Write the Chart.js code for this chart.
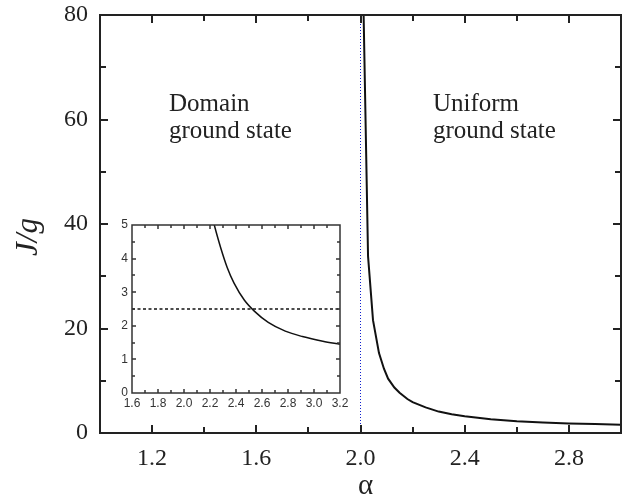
<!DOCTYPE html>
<html>
<head>
<meta charset="utf-8">
<script src="https://cdn.jsdelivr.net/npm/chart.js@4.4.0/dist/chart.umd.min.js"></script>
<style>
  html, body { margin: 0; padding: 0; background: #fff; }
  #wrap { position: relative; width: 625px; height: 497px; }
  #mainChart { position: absolute; left: 0; top: 0; }
  #insetChart { position: absolute; left: 100px; top: 210px; }
</style>
</head>
<body>
<div id="wrap">
  <canvas id="mainChart" width="625" height="497"></canvas>
  <canvas id="insetChart" width="250" height="205"></canvas>
</div>
<script>
// main curve: J/g against alpha
const alphaMain = [2.012, 2.029, 2.048, 2.071, 2.09, 2.106, 2.13, 2.15, 2.18, 2.2, 2.25, 2.3, 2.35, 2.4, 2.5, 2.6, 2.7, 2.8, 2.9, 3.0];
const jMain = [80, 33.8, 21.6, 15.3, 12.3, 10.4, 8.7, 7.7, 6.5, 5.9, 4.9, 4.1, 3.6, 3.2, 2.65, 2.25, 2.0, 1.82, 1.7, 1.6];
// critical alpha (dotted boundary)
const alphaCrit = 2.0;

// inset zoom of the same curve
const alphaInset = [2.22, 2.233, 2.281, 2.333, 2.385, 2.465, 2.543, 2.648, 2.779, 2.911, 3.068, 3.2];
const jInset = [5.2, 5.0, 4.34, 3.73, 3.27, 2.76, 2.43, 2.1, 1.84, 1.68, 1.54, 1.45];
const jThreshold = 2.5;

// tick label rules
const mainXLabels = ["1.2", "1.6", "2.0", "2.4", "2.8"];
const mainYLabels = ["0", "20", "40", "60", "80"];

const SERIF = "'Liberation Serif', 'Times New Roman', serif";
const SANS = "'Liberation Sans', Arial, sans-serif";

const pts = (xs, ys) => xs.map((x, i) => ({ x, y: ys[i] }));

// fixed axis box, no automatic label padding
const fixBox = (w, h) => (s) => {
  if (w != null) s.width = w;
  if (h != null) s.height = h;
  s.paddingTop = s.paddingBottom = s.paddingLeft = s.paddingRight = 0;
};

// inward ticks on all four sides + frame
function frameTicks(opts) {
  return {
    id: "frameTicks",
    afterDraw(chart) {
      const { ctx, chartArea: a } = chart;
      const xs = chart.scales.x, ys = chart.scales.y;
      ctx.save();
      ctx.strokeStyle = opts.color;
      ctx.lineWidth = opts.width;
      ctx.beginPath();
      xs.ticks.forEach((t) => {
        const px = Math.round(xs.getPixelForValue(t.value));
        if (px <= a.left + 1 || px >= a.right - 1) return;
        const len = t.label !== "" ? opts.major : opts.minor;
        ctx.moveTo(px, a.bottom); ctx.lineTo(px, a.bottom - len);
        ctx.moveTo(px, a.top); ctx.lineTo(px, a.top + len);
      });
      ys.ticks.forEach((t) => {
        const py = Math.round(ys.getPixelForValue(t.value));
        if (py <= a.top + 1 || py >= a.bottom - 1) return;
        const len = t.label !== "" ? opts.major : opts.minor;
        ctx.moveTo(a.left, py); ctx.lineTo(a.left + len, py);
        ctx.moveTo(a.right, py); ctx.lineTo(a.right - len, py);
      });
      ctx.stroke();
      ctx.strokeRect(a.left, a.top, a.right - a.left, a.bottom - a.top);
      ctx.restore();
    },
  };
}

// axis titles and region labels
const mainText = {
  id: "mainText",
  afterDraw(chart) {
    const { ctx } = chart;
    const xs = chart.scales.x, ys = chart.scales.y;
    ctx.save();
    ctx.fillStyle = "#222";
    ctx.font = "25px " + SERIF;
    ctx.textAlign = "left";
    ctx.textBaseline = "alphabetic";
    const lx = xs.getPixelForValue(1.265), rx = xs.getPixelForValue(2.278);
    const y1 = ys.getPixelForValue(61.6), y2 = ys.getPixelForValue(56.4);
    ctx.fillText("Domain", lx, y1);
    ctx.fillText("ground state", lx, y2);
    ctx.fillText("Uniform", rx, y1);
    ctx.fillText("ground state", rx, y2);

    ctx.font = "29px " + SERIF;
    ctx.textAlign = "center";
    ctx.textBaseline = "middle";
    ctx.fillText("\u03b1", xs.getPixelForValue(2.0) + 5, 486);

    ctx.translate(29, 237);
    ctx.rotate(-Math.PI / 2);
    ctx.font = "italic 31px " + SERIF;
    ctx.fillText("J/g", 0, 0);
    ctx.restore();
  },
};

new Chart(document.getElementById("mainChart"), {
  type: "scatter",
  data: {
    datasets: [
      {
        data: pts([alphaCrit, alphaCrit], [0, 80]),
        showLine: true,
        borderColor: "#1020d0",
        borderWidth: 1,
        borderDash: [1, 2],
        pointRadius: 0,
      },
      {
        data: pts(alphaMain, jMain),
        showLine: true,
        borderColor: "#111",
        borderWidth: 2,
        pointRadius: 0,
        tension: 0,
      },
    ],
  },
  options: {
    responsive: false,
    animation: false,
    devicePixelRatio: 1,
    layout: { padding: { left: 0, top: 15, right: 4, bottom: 0 } },
    plugins: { legend: { display: false }, tooltip: { enabled: false } },
    scales: {
      x: {
        type: "linear",
        min: 1.0,
        max: 3.0,
        grid: { display: false, drawTicks: false },
        border: { display: false },
        afterFit: fixBox(null, 64),
        ticks: {
          stepSize: 0.2,
          autoSkip: false,
          maxRotation: 0,
          padding: 11,
          color: "#222",
          font: { family: SERIF, size: 24 },
          callback: (v) => {
            const s = (Math.round(v * 10) / 10).toFixed(1);
            return mainXLabels.includes(s) ? s : "";
          },
        },
      },
      y: {
        min: 0,
        max: 80,
        grid: { display: false, drawTicks: false },
        border: { display: false },
        afterFit: fixBox(100, null),
        ticks: {
          stepSize: 10,
          autoSkip: false,
          padding: 12,
          color: "#222",
          font: { family: SERIF, size: 24 },
          callback: (v) => (mainYLabels.includes(String(v)) ? String(v) : ""),
        },
      },
    },
  },
  plugins: [frameTicks({ color: "#222", width: 2, major: 8, minor: 6 }), mainText],
});

const insetBg = {
  id: "insetBg",
  beforeDraw(chart) {
    const { ctx, chartArea: a } = chart;
    ctx.save();
    ctx.fillStyle = "#fff";
    ctx.fillRect(a.left, a.top, a.right - a.left, a.bottom - a.top);
    ctx.restore();
  },
};

new Chart(document.getElementById("insetChart"), {
  type: "scatter",
  data: {
    datasets: [
      {
        data: pts([1.6, 3.2], [jThreshold, jThreshold]),
        showLine: true,
        borderColor: "#111",
        borderWidth: 1.5,
        borderDash: [3, 2.5],
        pointRadius: 0,
      },
      {
        data: pts(alphaInset, jInset),
        showLine: true,
        borderColor: "#111",
        borderWidth: 1.5,
        pointRadius: 0,
        cubicInterpolationMode: "monotone",
      },
    ],
  },
  options: {
    responsive: false,
    animation: false,
    devicePixelRatio: 1,
    layout: { padding: { left: 0, top: 15, right: 10, bottom: 0 } },
    plugins: { legend: { display: false }, tooltip: { enabled: false } },
    scales: {
      x: {
        type: "linear",
        min: 1.6,
        max: 3.2,
        grid: { display: false, drawTicks: false },
        border: { display: false },
        afterFit: fixBox(null, 22),
        ticks: {
          stepSize: 0.1,
          autoSkip: false,
          maxRotation: 0,
          padding: 3,
          color: "#333",
          font: { family: SANS, size: 12 },
          callback: (v) => {
            const k = Math.round(v * 10);
            return k % 2 === 0 ? (k / 10).toFixed(1) : "";
          },
        },
      },
      y: {
        min: 0,
        max: 5,
        grid: { display: false, drawTicks: false },
        border: { display: false },
        afterFit: fixBox(32, null),
        ticks: {
          stepSize: 0.5,
          autoSkip: false,
          padding: 4,
          color: "#333",
          font: { family: SANS, size: 12 },
          callback: (v) => (Number.isInteger(v) ? String(v) : ""),
        },
      },
    },
  },
  plugins: [insetBg, frameTicks({ color: "#333", width: 1.5, major: 4, minor: 3 })],
});
</script>
</body>
</html>
